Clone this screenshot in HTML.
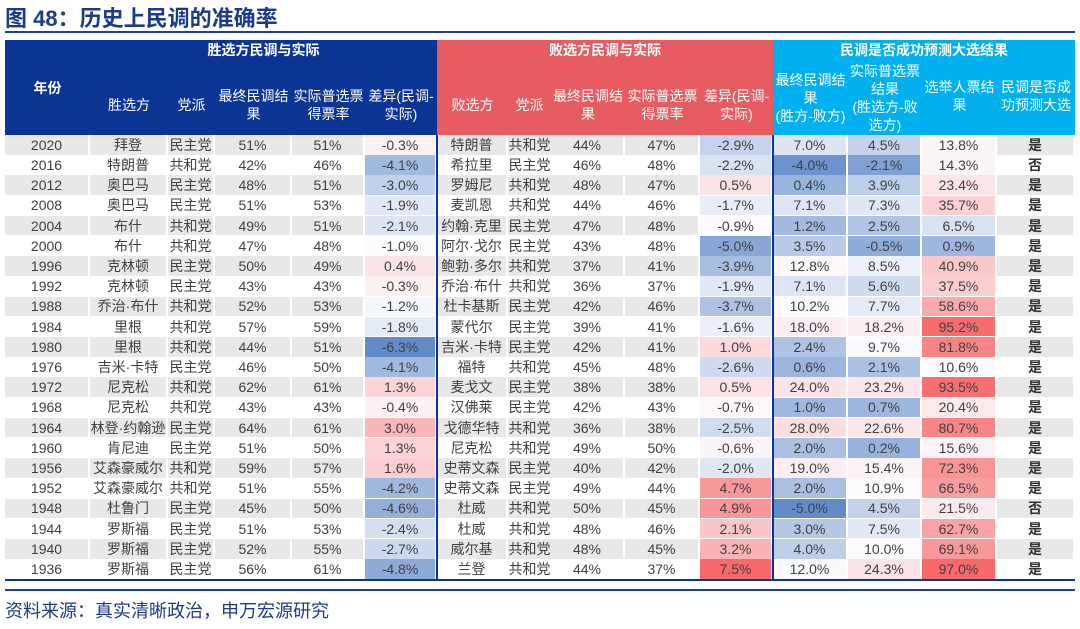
<!DOCTYPE html>
<html><head><meta charset="utf-8">
<style>
body{margin:0;width:1080px;height:629px;background:#fff;overflow:hidden;font-family:"Liberation Sans","Noto Sans CJK SC",sans-serif;position:relative}
.t{position:absolute;left:5px;top:1px;font-size:22px;font-weight:bold;color:#1b3a8c;font-family:"Liberation Sans","Noto Sans CJK SC",sans-serif}
.line{position:absolute;left:5px;width:1070px;background:#1b3f9a}
.c{position:absolute;box-sizing:border-box;display:flex;align-items:center;justify-content:center;text-align:center;font-size:14px;color:#404040;border-right:2px solid #fff;border-bottom:1px solid #fff;line-height:18px;white-space:nowrap}
.h{color:#fff;font-size:14px;line-height:18px;border:none !important}
.hb{font-weight:bold}
.foot{position:absolute;left:5px;top:597px;font-size:18px;color:#1b3a8c}
</style></head><body>
<div class="t">图 48：历史上民调的准确率</div>
<div class="line" style="top:31px;height:2px"></div>
<div id="tbl"></div>
<div class="line" style="top:589px;height:2px"></div>
<div class="foot">资料来源：真实清晰政治，申万宏源研究</div>
<script>
const years=[2020,2016,2012,2008,2004,2000,1996,1992,1988,1984,1980,1976,1972,1968,1964,1960,1956,1952,1948,1944,1940,1936];
const winners=["拜登","特朗普","奥巴马","奥巴马","布什","布什","克林顿","克林顿","乔治·布什","里根","里根","吉米·卡特","尼克松","尼克松","林登·约翰逊","肯尼迪","艾森豪威尔","艾森豪威尔","杜鲁门","罗斯福","罗斯福","罗斯福"];
const winParty=["民主党","共和党","民主党","民主党","共和党","共和党","民主党","民主党","共和党","共和党","共和党","民主党","共和党","共和党","民主党","民主党","共和党","共和党","民主党","民主党","民主党","民主党"];
const winPoll=[51,42,48,51,49,47,50,43,52,57,44,46,62,43,64,51,59,51,45,51,52,56];
const winVote=[51,46,51,53,51,48,49,43,53,59,51,50,61,43,61,50,57,55,50,53,55,61];
const winDiff=[-0.3,-4.1,-3.0,-1.9,-2.1,-1.0,0.4,-0.3,-1.2,-1.8,-6.3,-4.1,1.3,-0.4,3.0,1.3,1.6,-4.2,-4.6,-2.4,-2.7,-4.8];
const losers=["特朗普","希拉里","罗姆尼","麦凯恩","约翰·克里","阿尔·戈尔","鲍勃·多尔","乔治·布什","杜卡基斯","蒙代尔","吉米·卡特","福特","麦戈文","汉佛莱","戈德华特","尼克松","史蒂文森","史蒂文森","杜威","杜威","威尔基","兰登"];
const loseParty=["共和党","民主党","共和党","共和党","民主党","民主党","共和党","共和党","民主党","民主党","民主党","共和党","民主党","民主党","共和党","共和党","民主党","民主党","共和党","共和党","共和党","共和党"];
const losePoll=[44,46,48,44,47,43,37,36,42,39,42,45,38,42,36,49,40,49,50,48,48,44];
const loseVote=[47,48,47,46,48,48,41,37,46,41,41,48,38,43,38,50,42,44,45,46,45,37];
const loseDiff=[-2.9,-2.2,0.5,-1.7,-0.9,-5.0,-3.9,-1.9,-3.7,-1.6,1.0,-2.6,0.5,-0.7,-2.5,-0.6,-2.0,4.7,4.9,2.1,3.2,7.5];
const pollMargin=[7.0,-4.0,0.4,7.1,1.2,3.5,12.8,7.1,10.2,18.0,2.4,0.6,24.0,1.0,28.0,2.0,19.0,2.0,-5.0,3.0,4.0,12.0];
const voteMargin=[4.5,-2.1,3.9,7.3,2.5,-0.5,8.5,5.6,7.7,18.2,9.7,2.1,23.2,0.7,22.6,0.2,15.4,10.9,4.5,7.5,10.0,24.3];
const evMargin=[13.8,14.3,23.4,35.7,6.5,0.9,40.9,37.5,58.6,95.2,81.8,10.6,93.5,20.4,80.7,15.6,72.3,66.5,21.5,62.7,69.1,97.0];
const correct=["是","否","是","是","是","是","是","是","是","是","是","是","是","是","是","是","是","是","否","是","是","是"];

const edges=[5,90,168,215,292,365,437,508,551,625,700,773,848,922,997,1075];
const tbl=document.getElementById('tbl');
function cell(x0,x1,y,h,txt,bg,cls,name){
  const d=document.createElement('div');
  d.className='c '+(cls||'');
  d.style.left=x0+'px';d.style.top=y+'px';d.style.width=(x1-x0)+'px';d.style.height=h+'px';
  d.style.background=bg;d.innerHTML=txt;
  
  
  tbl.appendChild(d);return d;
}
const NAVY='#0b3594',RED='#e65c60',CYAN='#00b0ef';
cell(edges[0],edges[6],40,95,'',NAVY,'h','winner-header-bg');
cell(edges[6],edges[11],40,95,'',RED,'h','loser-header-bg');
cell(edges[11],edges[15],40,95,'',CYAN,'h','prediction-header-bg');
cell(edges[1],edges[6],40,20,'胜选方民调与实际','transparent','h hb','winner-group-title');
cell(edges[6],edges[11],40,20,'败选方民调与实际','transparent','h hb','loser-group-title');
cell(edges[11],edges[15],40,20,'民调是否成功预测大选结果','transparent','h hb','prediction-group-title');
cell(edges[0],edges[1],60,55,'年份','transparent','h hb','year-header');
const heads=['胜选方','党派','最终民调结<br>果','实际普选票<br>得票率','差异(民调-<br>实际)','败选方','党派','最终民调结<br>果','实际普选票<br>得票率','差异(民调-<br>实际)','最终民调结<br>果<br>(胜方-败方)','实际普选票<br>结果<br>(胜选方-败<br>选方)','选举人票结<br>果','民调是否成<br>功预测大选'];
for(let i=0;i<heads.length;i++){
  const c=cell(edges[i+1],edges[i+2],60,75,heads[i],'transparent','h','column-header');
  if(i<10) c.style.paddingTop='14px';
  if(i>=12) c.style.paddingBottom='4px';
}
function mix(a,b,t){return 'rgb('+a.map((v,i)=>Math.round(v+(b[i]-v)*t)).join(',')+')';}
const BL=[98,139,201],WH=[252,252,255],RD=[248,105,107];
function scale(v,mn,md,mx){return v<md?mix(WH,BL,Math.min(1,(md-v)/(md-mn))):mix(WH,RD,Math.min(1,(v-md)/(mx-md)));}
const y0=135,rh=20.2;
const pct=v=>v+'%',p1=v=>v.toFixed(1)+'%';
for(let r=0;r<years.length;r++){
  const y=y0+r*rh, stripe=r%2===0?'#e8e8e8':'#fff';
  const vals=[years[r],winners[r],winParty[r],pct(winPoll[r]),pct(winVote[r]),p1(winDiff[r]),losers[r],loseParty[r],pct(losePoll[r]),pct(loseVote[r]),p1(loseDiff[r]),p1(pollMargin[r]),p1(voteMargin[r]),p1(evMargin[r]),correct[r]];
  const bgs=[stripe,stripe,stripe,stripe,stripe,scale(winDiff[r],-6.3,-1.0,7.5),stripe,stripe,stripe,stripe,scale(loseDiff[r],-6.3,-1.0,7.5),scale(pollMargin[r],-5,10,97),scale(voteMargin[r],-5,10,97),scale(evMargin[r],-5,10,97),stripe];
  const names=['year','winner','winner-party','winner-poll','winner-vote','winner-diff','loser','loser-party','loser-poll','loser-vote','loser-diff','poll-margin','vote-margin','ev-margin','prediction-correct'];
  for(let i=0;i<15;i++){
    const c=cell(edges[i],edges[i+1],y,rh+0.5,vals[i],bgs[i],'',names[i]+'-'+years[r]);
    if(i===14){c.style.fontWeight='bold';c.style.color='#333';}
    if(i===7){c.style.borderRight='none';}
  }
}
[edges[6]-1,edges[11]-1].forEach(x=>{const d=document.createElement('div');d.style.cssText='position:absolute;left:'+x+'px;top:135px;width:2px;height:445px;background:#0b3594';


tbl.appendChild(d);});
const b=document.createElement('div');b.style.cssText='position:absolute;left:5px;top:579px;width:1070px;height:2px;background:#0b3594';


tbl.appendChild(b);
</script>
</body></html>
